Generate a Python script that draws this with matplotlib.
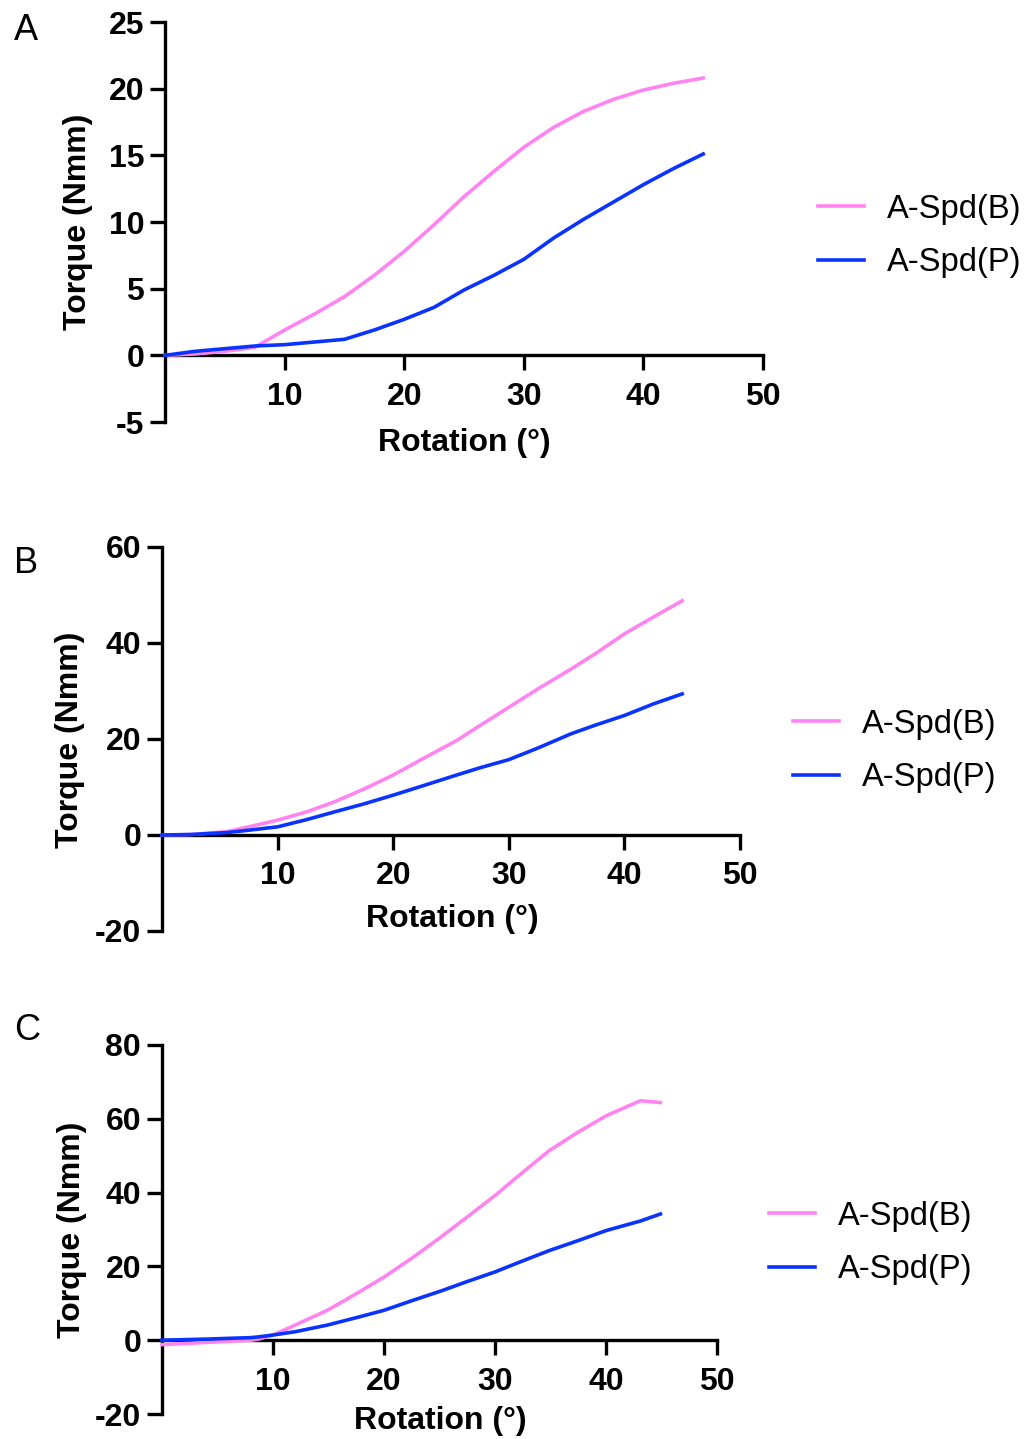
import numpy as np
import matplotlib.pyplot as plt

plt.rcParams['font.family'] = ['Liberation Sans', 'DejaVu Sans']
plt.rcParams['axes.unicode_minus'] = False

PINK = '#FF84F2'
BLUE = '#0A33FF'
labels = ['A-Spd(B)', 'A-Spd(P)']

# panel A
xa = [0, 2.5, 5, 7.5, 10, 12.5, 15, 17.5, 20, 22.5, 25, 27.5, 30, 32.5, 35, 37.5, 40, 42.5, 45]
a_pink = [0, 0.1, 0.3, 0.6, 1.9, 3.1, 4.4, 6.0, 7.8, 9.8, 11.9, 13.8, 15.6, 17.1, 18.3, 19.2, 19.9, 20.4, 20.8]
a_blue = [0, 0.3, 0.5, 0.7, 0.8, 1.0, 1.2, 1.9, 2.7, 3.6, 4.9, 6.0, 7.2, 8.8, 10.2, 11.5, 12.8, 14.0, 15.1]

# panel B
xb = [0, 2.5, 5.6, 7.5, 10, 12.5, 14.9, 17.5, 20, 22.5, 25.5, 27.5, 30, 32.5, 35.4, 37.5, 40, 42.5, 45]
b_pink = [0, 0.1, 0.7, 1.7, 3.1, 4.8, 6.9, 9.6, 12.5, 15.8, 19.7, 22.8, 26.6, 30.4, 34.6, 37.8, 41.9, 45.4, 48.8]
b_blue = [0, 0.1, 0.5, 1.0, 1.7, 3.2, 4.8, 6.5, 8.3, 10.2, 12.5, 14.0, 15.7, 18.1, 21.1, 22.9, 24.9, 27.3, 29.4]

# panel C
xc = [0, 4, 8, 8.7, 10, 12, 14.9, 17.5, 20, 22.5, 25.1, 27.5, 30, 32.5, 34.9, 37.5, 40, 43.1, 44.9]
c_pink = [-1.2, -0.6, 0.0, 0.3, 1.4, 4.1, 8.1, 12.6, 17.1, 22.2, 27.9, 33.4, 39.2, 45.5, 51.4, 56.4, 60.8, 64.9, 64.4]
c_blue = [0, 0.3, 0.7, 0.9, 1.4, 2.3, 4.1, 6.1, 8.1, 10.7, 13.3, 15.9, 18.5, 21.5, 24.3, 27.0, 29.7, 32.3, 34.2]

W, H = 1026, 1439

# name, x, pink, blue, ylim, yticks, axes rect (px: left, top, right, bottom),
# legend anchor, ylabel centre, xlabel centre, letter centre (all px)
panels = [
    ('A', xa, a_pink, a_blue, (-5, 25), np.arange(-5, 26, 5),
     (165, 22, 763, 422), (818, 236), (78, 222), (464, 443), 30),
    ('B', xb, b_pink, b_blue, (-20, 60), np.arange(-20, 61, 20),
     (162, 547, 740, 931), (793, 751), (70, 740), (452, 919), 563),
    ('C', xc, c_pink, c_blue, (-20, 80), np.arange(-20, 81, 20),
     (162, 1045, 717, 1414), (769, 1243), (72, 1230), (440, 1421), 1030),
]

fig = plt.figure(figsize=(W / 100, H / 100), dpi=100)

for name, x, yp, yb, ylim, yticks, r, leg, ylc, xlc, ly in panels:
    ax = fig.add_axes([r[0] / W, 1 - r[3] / H, (r[2] - r[0]) / W, (r[3] - r[1]) / H])
    ax.plot(x, yp, color=PINK, lw=2.6, label=labels[0], clip_on=False, zorder=3)
    ax.plot(x, yb, color=BLUE, lw=2.6, label=labels[1], clip_on=False, zorder=3)
    ax.set_xlim(0, 50)
    ax.set_ylim(*ylim)
    ax.set_xticks([10, 20, 30, 40, 50])
    ax.set_yticks(yticks)
    ax.spines['top'].set_visible(False)
    ax.spines['right'].set_visible(False)
    ax.spines['bottom'].set_position(('data', 0))
    for s in ('left', 'bottom'):
        ax.spines[s].set_linewidth(2.4)
    ax.tick_params(width=2.4, length=11, labelsize=23, pad=4)
    ax.tick_params(axis='x', pad=8)
    for t in ax.get_xticklabels() + ax.get_yticklabels():
        t.set_fontweight('bold')
    ax.set_ylabel('Torque (Nmm)', fontsize=23, fontweight='bold')
    ax.set_xlabel('Rotation (°)', fontsize=23, fontweight='bold')
    ax.yaxis.set_label_coords(ylc[0] / W, 1 - ylc[1] / H, transform=fig.transFigure)
    ax.xaxis.set_label_coords(xlc[0] / W, 1 - xlc[1] / H, transform=fig.transFigure)
    ax.yaxis.label.set_va('center')
    ax.xaxis.label.set_va('center')
    ax.legend(loc='center left', bbox_to_anchor=(leg[0] / W, 1 - leg[1] / H),
              bbox_transform=fig.transFigure, frameon=False, fontsize=23.5,
              handlelength=1.4, handletextpad=0.7, labelspacing=0.7,
              borderpad=0, borderaxespad=0)
    fig.text(14 / W, 1 - ly / H, name, fontsize=26, va='center', ha='left')

fig.savefig('out.png', dpi=100)
